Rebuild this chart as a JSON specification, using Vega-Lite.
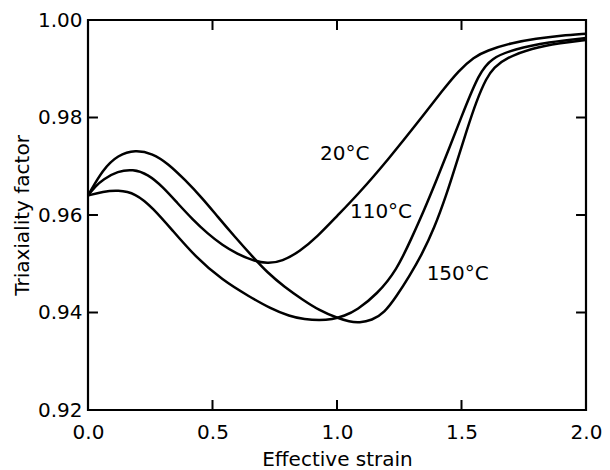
{
  "$schema": "https://vega.github.io/schema/vega-lite/v6.json",
  "autosize": {"type": "none"},
  "padding": {"left": 88, "top": 20, "right": 24, "bottom": 60},
  "width": 498,
  "height": 390,
  "background": "white",
  "datasets": {
    "xticks": [{"pos": 0.5}, {"pos": 1.0}, {"pos": 1.5}],
    "yticks": [{"pos": 0.94}, {"pos": 0.96}, {"pos": 0.98}]
  },
  "config": {
    "font": "DejaVu Sans",
    "view": {"stroke": "black", "strokeWidth": 2.2},
    "scale": {"continuousPadding": 0},
    "axis": {
      "domain": false, "ticks": false, "grid": false, "labelFlush": false,
      "labelColor": "black", "labelFont": "DejaVu Sans", "labelFontSize": 20,
      "titleColor": "black", "titleFont": "DejaVu Sans", "titleFontSize": 20, "titleFontWeight": "normal"
    }
  },
  "layer": [
    {
      "data": {"values": [
        {"series": "20°C", "strain": 0.0, "tf": 0.964},
        {"series": "20°C", "strain": 0.03, "tf": 0.9659},
        {"series": "20°C", "strain": 0.06, "tf": 0.9673},
        {"series": "20°C", "strain": 0.12, "tf": 0.969},
        {"series": "20°C", "strain": 0.18, "tf": 0.9694},
        {"series": "20°C", "strain": 0.24, "tf": 0.9684},
        {"series": "20°C", "strain": 0.3, "tf": 0.9658},
        {"series": "20°C", "strain": 0.36, "tf": 0.9624},
        {"series": "20°C", "strain": 0.42, "tf": 0.9591},
        {"series": "20°C", "strain": 0.48, "tf": 0.9562},
        {"series": "20°C", "strain": 0.54, "tf": 0.9538},
        {"series": "20°C", "strain": 0.6, "tf": 0.952},
        {"series": "20°C", "strain": 0.66, "tf": 0.9507},
        {"series": "20°C", "strain": 0.72, "tf": 0.95},
        {"series": "20°C", "strain": 0.78, "tf": 0.9505},
        {"series": "20°C", "strain": 0.85, "tf": 0.9525},
        {"series": "20°C", "strain": 0.92, "tf": 0.9555},
        {"series": "20°C", "strain": 1.0, "tf": 0.9598},
        {"series": "20°C", "strain": 1.08, "tf": 0.964},
        {"series": "20°C", "strain": 1.2, "tf": 0.971},
        {"series": "20°C", "strain": 1.36, "tf": 0.9813},
        {"series": "20°C", "strain": 1.42, "tf": 0.9853},
        {"series": "20°C", "strain": 1.49, "tf": 0.9897},
        {"series": "20°C", "strain": 1.55, "tf": 0.9924},
        {"series": "20°C", "strain": 1.6, "tf": 0.9937},
        {"series": "20°C", "strain": 1.7, "tf": 0.9953},
        {"series": "20°C", "strain": 1.8, "tf": 0.9962},
        {"series": "20°C", "strain": 1.9, "tf": 0.9968},
        {"series": "20°C", "strain": 2.0, "tf": 0.9972},

        {"series": "110°C", "strain": 0.0, "tf": 0.964},
        {"series": "110°C", "strain": 0.06, "tf": 0.9648},
        {"series": "110°C", "strain": 0.12, "tf": 0.9651},
        {"series": "110°C", "strain": 0.19, "tf": 0.9645},
        {"series": "110°C", "strain": 0.26, "tf": 0.9615},
        {"series": "110°C", "strain": 0.34, "tf": 0.9568},
        {"series": "110°C", "strain": 0.43, "tf": 0.9515},
        {"series": "110°C", "strain": 0.54, "tf": 0.9466},
        {"series": "110°C", "strain": 0.65, "tf": 0.9432},
        {"series": "110°C", "strain": 0.73, "tf": 0.9409},
        {"series": "110°C", "strain": 0.81, "tf": 0.9392},
        {"series": "110°C", "strain": 0.87, "tf": 0.9386},
        {"series": "110°C", "strain": 0.93, "tf": 0.9384},
        {"series": "110°C", "strain": 0.98, "tf": 0.9386},
        {"series": "110°C", "strain": 1.03, "tf": 0.9393},
        {"series": "110°C", "strain": 1.08, "tf": 0.9405},
        {"series": "110°C", "strain": 1.16, "tf": 0.9437},
        {"series": "110°C", "strain": 1.24, "tf": 0.9487},
        {"series": "110°C", "strain": 1.3, "tf": 0.9553},
        {"series": "110°C", "strain": 1.35, "tf": 0.961},
        {"series": "110°C", "strain": 1.4, "tf": 0.9672},
        {"series": "110°C", "strain": 1.45, "tf": 0.9736},
        {"series": "110°C", "strain": 1.51, "tf": 0.9815},
        {"series": "110°C", "strain": 1.57, "tf": 0.989},
        {"series": "110°C", "strain": 1.62, "tf": 0.9922},
        {"series": "110°C", "strain": 1.71, "tf": 0.994},
        {"series": "110°C", "strain": 1.85, "tf": 0.9955},
        {"series": "110°C", "strain": 2.0, "tf": 0.9963},

        {"series": "150°C", "strain": 0.0, "tf": 0.964},
        {"series": "150°C", "strain": 0.06, "tf": 0.9694},
        {"series": "150°C", "strain": 0.12, "tf": 0.9723},
        {"series": "150°C", "strain": 0.19, "tf": 0.9734},
        {"series": "150°C", "strain": 0.26, "tf": 0.9726},
        {"series": "150°C", "strain": 0.32, "tf": 0.9706},
        {"series": "150°C", "strain": 0.39, "tf": 0.9672},
        {"series": "150°C", "strain": 0.46, "tf": 0.9634},
        {"series": "150°C", "strain": 0.52, "tf": 0.9597},
        {"series": "150°C", "strain": 0.59, "tf": 0.9555},
        {"series": "150°C", "strain": 0.66, "tf": 0.9515},
        {"series": "150°C", "strain": 0.72, "tf": 0.9482},
        {"series": "150°C", "strain": 0.79, "tf": 0.9452},
        {"series": "150°C", "strain": 0.86, "tf": 0.9427},
        {"series": "150°C", "strain": 0.93, "tf": 0.9404},
        {"series": "150°C", "strain": 1.0, "tf": 0.9389},
        {"series": "150°C", "strain": 1.05, "tf": 0.9381},
        {"series": "150°C", "strain": 1.09, "tf": 0.9379},
        {"series": "150°C", "strain": 1.14, "tf": 0.9384},
        {"series": "150°C", "strain": 1.19, "tf": 0.9399},
        {"series": "150°C", "strain": 1.24, "tf": 0.9434},
        {"series": "150°C", "strain": 1.29, "tf": 0.9474},
        {"series": "150°C", "strain": 1.34, "tf": 0.9518},
        {"series": "150°C", "strain": 1.39, "tf": 0.9572},
        {"series": "150°C", "strain": 1.44, "tf": 0.9642},
        {"series": "150°C", "strain": 1.48, "tf": 0.9707},
        {"series": "150°C", "strain": 1.52, "tf": 0.9772},
        {"series": "150°C", "strain": 1.56, "tf": 0.9834},
        {"series": "150°C", "strain": 1.6, "tf": 0.9881},
        {"series": "150°C", "strain": 1.63, "tf": 0.9903},
        {"series": "150°C", "strain": 1.68, "tf": 0.9922},
        {"series": "150°C", "strain": 1.78, "tf": 0.9942},
        {"series": "150°C", "strain": 1.9, "tf": 0.9953},
        {"series": "150°C", "strain": 2.0, "tf": 0.9959}
      ]},
      "mark": {"type": "line", "interpolate": "basis", "color": "black", "strokeWidth": 2.5},
      "encoding": {
        "x": {"field": "strain", "type": "quantitative",
              "scale": {"domain": [0, 2], "nice": false, "zero": false, "padding": 0},
              "axis": {"orient": "bottom", "values": [0, 0.5, 1, 1.5, 2], "format": ".1f",
                       "title": "Effective strain", "labelPadding": 12, "titlePadding": 7}},
        "y": {"field": "tf", "type": "quantitative",
              "scale": {"domain": [0.92, 1.0], "nice": false, "zero": false, "padding": 0},
              "axis": {"orient": "left", "values": [0.92, 0.94, 0.96, 0.98, 1.0], "format": ".2f",
                       "title": "Triaxiality factor", "labelPadding": 6, "titlePadding": 5}},
        "detail": {"field": "series", "type": "nominal"}
      }
    },
    {
      "data": {"values": [
        {"label": "20°C", "lx": 0.932, "ly": 0.9712},
        {"label": "110°C", "lx": 1.052, "ly": 0.9593},
        {"label": "150°C", "lx": 1.36, "ly": 0.9466}
      ]},
      "mark": {"type": "text", "align": "left", "baseline": "alphabetic", "font": "DejaVu Sans", "fontSize": 20, "color": "black"},
      "encoding": {
        "x": {"field": "lx", "type": "quantitative"},
        "y": {"field": "ly", "type": "quantitative"},
        "text": {"field": "label", "type": "nominal"}
      }
    },
    {
      "data": {"name": "xticks"},
      "mark": {"type": "bar", "color": "black", "size": 2},
      "encoding": {
        "x": {"field": "pos", "type": "quantitative"},
        "y": {"datum": 0.92, "type": "quantitative"},
        "y2": {"datum": 0.92205}
      }
    },
    {
      "data": {"name": "xticks"},
      "mark": {"type": "bar", "color": "black", "size": 2},
      "encoding": {
        "x": {"field": "pos", "type": "quantitative"},
        "y": {"datum": 1.0, "type": "quantitative"},
        "y2": {"datum": 0.99795}
      }
    },
    {
      "data": {"name": "yticks"},
      "mark": {"type": "bar", "color": "black", "size": 2, "orient": "horizontal"},
      "encoding": {
        "y": {"field": "pos", "type": "quantitative"},
        "x": {"datum": 0, "type": "quantitative"},
        "x2": {"datum": 0.04}
      }
    },
    {
      "data": {"name": "yticks"},
      "mark": {"type": "bar", "color": "black", "size": 2, "orient": "horizontal"},
      "encoding": {
        "y": {"field": "pos", "type": "quantitative"},
        "x": {"datum": 2.0, "type": "quantitative"},
        "x2": {"datum": 1.96}
      }
    }
  ]
}
